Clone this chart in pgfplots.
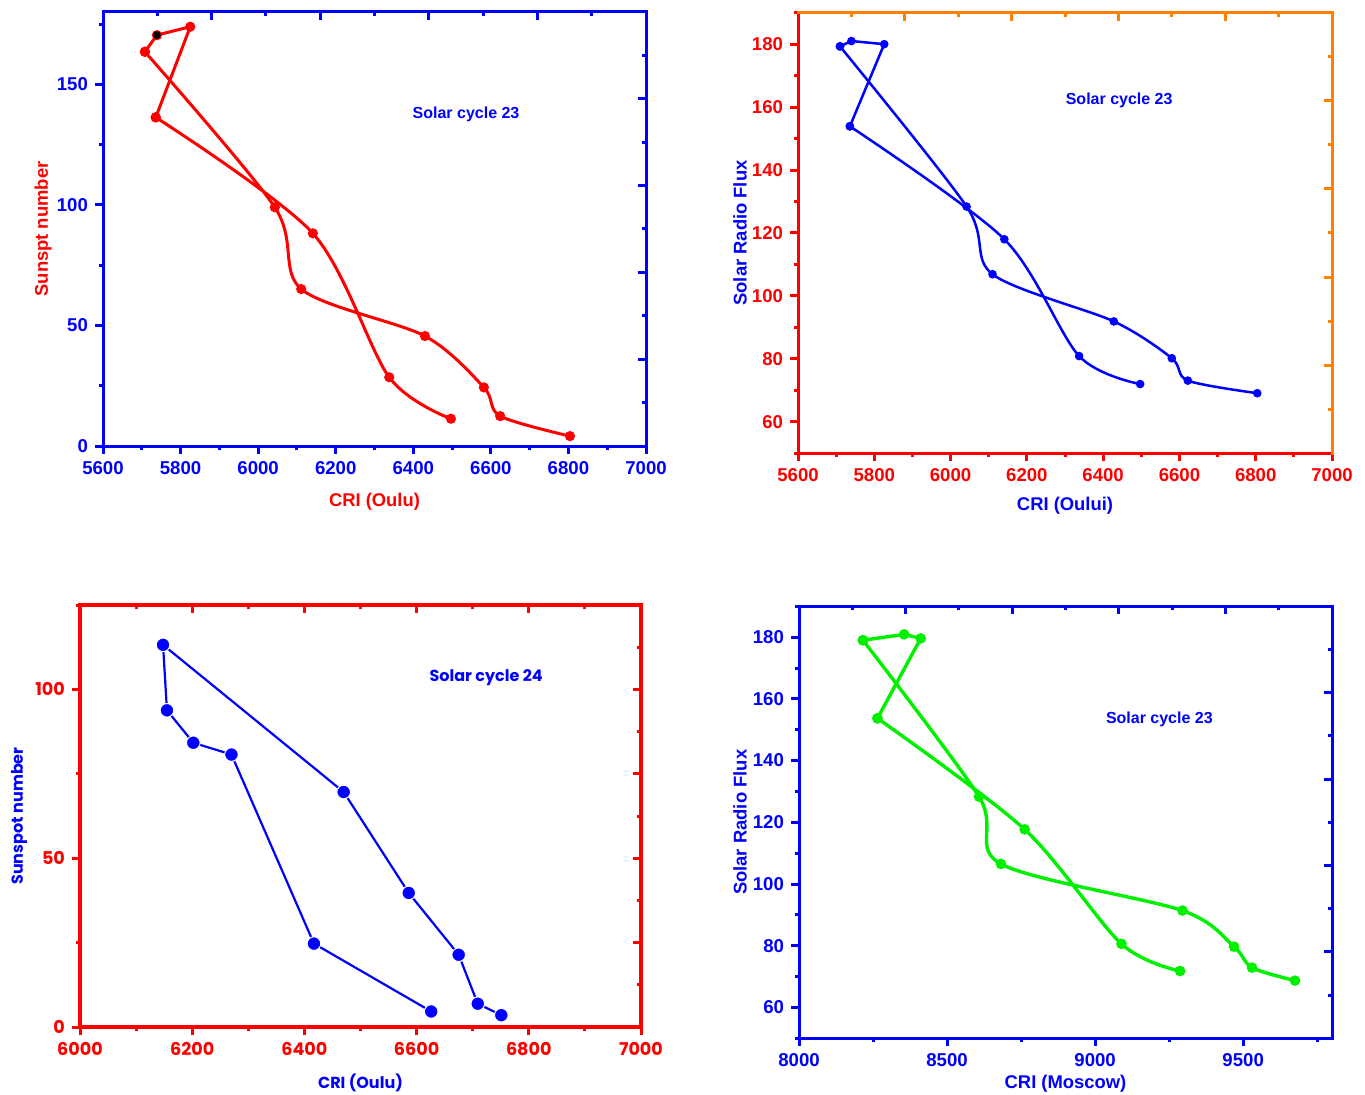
\documentclass[border=0pt]{standalone}
\usepackage{fontspec}
\setmainfont{Liberation Sans}
\newfontfamily\gothic{Poppins}
\usepackage{pgfplots}
\pgfplotsset{compat=1.18}
\definecolor{pblue}{RGB}{0,0,255}
\definecolor{pred}{RGB}{255,0,0}
\definecolor{porange}{RGB}{255,128,0}
\definecolor{pgreen}{RGB}{0,240,0}
\pgfplotsset{
  base/.style={scale only axis, anchor=south west, clip=false,
    /pgf/number format/assume math mode=true,
    /pgf/number format/1000 sep={},
    major tick length=4pt, minor tick length=2pt},
  main/.style={base, axis x line*=bottom, axis y line*=left, tick align=outside},
  sec/.style={base, axis x line*=top, axis y line*=right, tick align=inside,
    xticklabels={}, yticklabels={}, xmin=0,xmax=10,ymin=0,ymax=10,
    xtick={2,4,6,8}, minor xtick={1,3,5,7,9},
    ytick={2,4,6,8}, minor ytick={1,3,5,7,9}},
  col/.style={axis line style={draw=#1, line width=1.5pt, line cap=rect},
    tick style={draw=#1, line width=1.5pt}},
}
\begin{document}
\begin{tikzpicture}
\useasboundingbox (0,0) rectangle (682.5pt,547pt);
% ---------------- Panel 1 ----------------
\begin{axis}[main, col=pblue, at={(51.5pt,324pt)}, width=271.5pt, height=217pt,
  xmin=5600, xmax=7000, ymin=0, ymax=180,
  xtick={5600,5800,...,7000}, minor x tick num=1,
  ytick={0,50,100,150}, minor ytick={25,75,125,175},
  tick label style={font=\bfseries\fontsize{9.3}{10}\selectfont, text=pblue},
  label style={font=\bfseries\fontsize{9.2}{10}\selectfont, text=pred},
  xlabel={CRI (Oulu)}, ylabel={Sunspt number},
  xlabel style={at={(axis description cs:0.5,-0.129)}, anchor=center},
  ylabel style={at={(axis description cs:-0.1105,0.5)}, anchor=center}]
\addplot[pred, line width=1.5pt, smooth, mark=*, mark size=1.75pt, mark options={fill=pred}]
  coordinates {(6804,4.1) (6624,12.4) (6582,24.3) (6430,45.6) (6111,65.1) (6043,99.0) (5708,163.5)};
\addplot[pred, line width=1.5pt, mark=*, mark size=1.75pt, mark options={fill=pred}]
  coordinates {(5708,163.5) (5739,170.4) (5825,173.9) (5736,136.3)};
\addplot[pred, line width=1.5pt, smooth, mark=*, mark size=1.75pt, mark options={fill=pred}]
  coordinates {(5736,136.3) (6141,88.2) (6338,28.5) (6497,11.3)};
\addplot[only marks, mark=*, mark size=1.75pt, black] coordinates {(5739,170.4)};
\node[font=\bfseries\fontsize{8}{9}\selectfont, text=pblue] at (axis cs:6536,137.7) {Solar cycle 23};
\end{axis}
\begin{axis}[sec, col=pblue, at={(51.5pt,324pt)}, width=271.5pt, height=217pt]
\end{axis}
% ---------------- Panel 2 ----------------
\begin{axis}[main, col=pred, at={(399pt,320.35pt)}, width=267pt, height=220.3pt,
  xmin=5600, xmax=7000, ymin=50, ymax=190,
  xtick={5600,5800,...,7000}, minor x tick num=1,
  ytick={60,80,...,180}, minor ytick={50,70,...,190},
  tick label style={font=\bfseries\fontsize{9.3}{10}\selectfont, text=pred},
  label style={font=\bfseries\fontsize{9.2}{10}\selectfont, text=pblue},
  xlabel={CRI (Oului)}, ylabel={Solar Radio Flux},
  xlabel style={at={(axis description cs:0.5,-0.1196)}, anchor=center},
  ylabel style={at={(axis description cs:-0.1086,0.5)}, anchor=center}]
\addplot[pblue, line width=1.25pt, smooth, mark=*, mark size=1.5pt, mark options={fill=pblue}]
  coordinates {(6804,69.1) (6622,73.1) (6580,80.2) (6428,91.9) (6110,106.9) (6042,128.4) (5710,179.3)};
\addplot[pblue, line width=1.25pt, mark=*, mark size=1.5pt, mark options={fill=pblue}]
  coordinates {(5710,179.3) (5740,181.0) (5826,180.0) (5736,153.9)};
\addplot[pblue, line width=1.25pt, smooth, mark=*, mark size=1.5pt, mark options={fill=pblue}]
  coordinates {(5736,153.9) (6141,118.0) (6337,80.9) (6497,72.0)};
\node[font=\bfseries\fontsize{8}{9}\selectfont, text=pblue] at (axis cs:6442,162.3) {Solar cycle 23};
\end{axis}
\begin{axis}[sec, col=porange, at={(399pt,320.35pt)}, width=267pt, height=220.3pt]
\end{axis}
% ---------------- Panel 3 ----------------
\begin{axis}[main, col=pred, axis line style={line width=2pt}, at={(40pt,33.5pt)}, width=280.5pt, height=211pt,
  xmin=6000, xmax=7000, ymin=0, ymax=125,
  xtick={6000,6200,...,7000}, minor x tick num=1,
  ytick={0,50,100}, minor ytick={25,75,125},
  tick label style={font=\gothic\bfseries\fontsize{8.8}{10}\selectfont, text=pred},
  label style={font=\gothic\bfseries\fontsize{8}{9}\selectfont, text=pblue},
  xlabel={CRI (Oulu)}, ylabel={Sunspot number},
  xlabel style={at={(axis description cs:0.5,-0.1327)}, anchor=center},
  ylabel style={at={(axis description cs:-0.1087,0.5)}, anchor=center}]
\addplot[pblue, line width=1.1pt, mark=*, mark size=3.4pt, mark options={fill=pblue, draw=white, line width=0.5pt}]
  coordinates {(6751,3.5) (6709,6.9) (6675,21.4) (6586,39.7) (6470,69.6) (6148,113.2) (6155,93.8) (6202,84.2) (6270,80.7) (6417,24.7) (6626,4.6)};
\node[font=\gothic\bfseries\fontsize{8}{9}\selectfont, text=pblue] at (axis cs:6724,103.4) {Solar cycle 24};
\end{axis}
\begin{axis}[base, col=pred, axis line style={line width=2pt}, axis x line*=top, axis y line*=right, tick align=inside,
  xticklabels={}, yticklabels={}, at={(40pt,33.5pt)}, width=280.5pt, height=211pt,
  xmin=6000, xmax=7000, ymin=0, ymax=125,
  xtick={6200,6400,6600,6800}, minor xtick={6100,6300,...,6900},
  ytick={25,50,75,100}, minor ytick={12.5,37.5,62.5,87.5,112.5}]
\end{axis}
% ---------------- Panel 4 ----------------
\begin{axis}[main, col=pblue, at={(399.5pt,27.85pt)}, width=266.5pt, height=216pt,
  xmin=8000, xmax=9800, ymin=50, ymax=190,
  xtick={8000,8500,9000,9500}, minor xtick={8250,8750,9250,9750},
  ytick={60,80,...,180}, minor ytick={50,70,...,190},
  tick label style={font=\bfseries\fontsize{9.3}{10}\selectfont, text=pblue},
  label style={font=\bfseries\fontsize{9.2}{10}\selectfont, text=pblue},
  xlabel={CRI (Moscow)}, ylabel={Solar Radio Flux},
  xlabel style={at={(axis description cs:0.5,-0.1058)}, anchor=center},
  ylabel style={at={(axis description cs:-0.1107,0.5)}, anchor=center}]
\addplot[pgreen, line width=1.7pt, smooth, mark=*, mark size=1.75pt, mark options={fill=pgreen}]
  coordinates {(9675,68.7) (9530,72.9) (9469,79.7) (9295,91.4) (8682,106.5) (8608,128.3) (8216,179.0)};
\addplot[pgreen, line width=1.7pt, mark=*, mark size=1.75pt, mark options={fill=pgreen}]
  coordinates {(8216,179.0) (8355,180.9) (8411,179.6) (8265,153.7)};
\addplot[pgreen, line width=1.7pt, smooth, mark=*, mark size=1.75pt, mark options={fill=pgreen}]
  coordinates {(8265,153.7) (8762,117.7) (9089,80.6) (9287,71.8)};
\node[font=\bfseries\fontsize{8}{9}\selectfont, text=pblue] at (axis cs:9217,153.5) {Solar cycle 23};
\end{axis}
\begin{axis}[sec, col=pblue, at={(399.5pt,27.85pt)}, width=266.5pt, height=216pt]
\end{axis}
\end{tikzpicture}
\end{document}
